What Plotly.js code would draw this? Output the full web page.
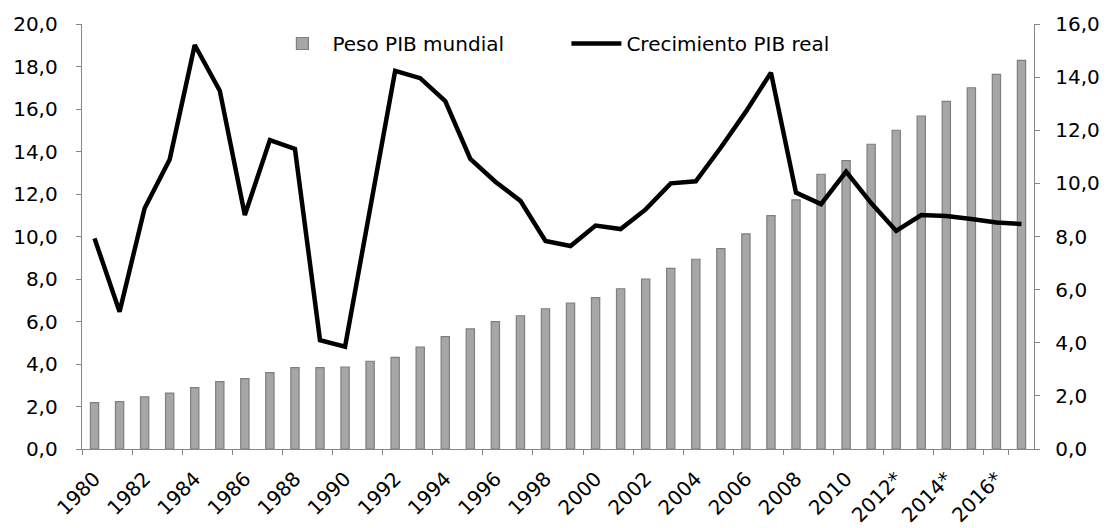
<!DOCTYPE html>
<html>
<head>
<meta charset="utf-8">
<script src="https://cdn.plot.ly/plotly-3.0.1.min.js"></script>
<style>html,body{margin:0;padding:0;background:#fff;}#chart{width:1113px;height:528px;}</style>
</head>
<body>
<div id="chart"></div>
<script>
const years = ["1980","1981","1982","1983","1984","1985","1986","1987","1988","1989",
  "1990","1991","1992","1993","1994","1995","1996","1997","1998","1999",
  "2000","2001","2002","2003","2004","2005","2006","2007","2008","2009",
  "2010","2011*","2012*","2013*","2014*","2015*","2016*","2017*"];
const pesoPIB = [2.18,2.23,2.45,2.63,2.89,3.17,3.31,3.59,3.83,3.83,
  3.86,4.13,4.31,4.80,5.29,5.65,5.99,6.27,6.60,6.87,
  7.12,7.54,8.00,8.50,8.93,9.43,10.12,10.98,11.72,12.93,
  13.57,14.34,15.00,15.67,16.36,17.00,17.63,18.29];
const crecimiento = [7.93,5.17,9.06,10.9,15.21,13.49,8.81,11.63,11.30,4.10,
  3.85,9.0,14.24,13.96,13.10,10.92,10.06,9.34,7.83,7.64,
  8.41,8.28,9.02,10.0,10.08,11.35,12.7,14.17,9.65,9.22,
  10.44,9.26,8.21,8.81,8.77,8.66,8.53,8.47];
const tickYears = years.filter((y,i)=>i%2===0 && i<37);
const seriesNames = ["Peso PIB mundial","Crecimiento PIB real"];

const fam = "DejaVu Sans, sans-serif";
const txt = {family: fam, size: 20, color: "#000"};
const axisColor = "#868686";

const traces = [
  {type:"bar", x: years, y: pesoPIB, name: seriesNames[0], yaxis:"y",
   marker:{color:"#a6a6a6", line:{color:"#7f7f7f", width:1.2}}, hoverinfo:"none"},
  {type:"scatter", mode:"lines", x: years, y: crecimiento, name: seriesNames[1], yaxis:"y2",
   line:{color:"#000", width:4.5}, hoverinfo:"none"}
];

const layout = {
  width:1113, height:528,
  margin:{l:82, r:79, t:24, b:79},
  paper_bgcolor:"#fff", plot_bgcolor:"#fff",
  separators:",.",
  font: txt,
  bargap:0.67,
  showlegend:true,
  legend:{orientation:"h", x:0.2, xanchor:"left", y:1.0, yanchor:"top",
    font:txt, itemwidth:50, entrywidth:229, entrywidthmode:"pixels",
    bgcolor:"rgba(0,0,0,0)", traceorder:"normal"},
  xaxis:{type:"category", tickmode:"array", tickvals: tickYears, ticktext: tickYears,
    tickangle:-45, ticks:"outside", ticklen:5, tickcolor:axisColor, tickson:"boundaries",
    showline:true, linecolor:axisColor, linewidth:1.3, showgrid:false, zeroline:false,
    tickfont:txt, ticklabelstandoff:9, range:[-0.5, 37.5]},
  yaxis:{range:[0,20], dtick:2, tickformat:".1f", ticks:"outside", ticklen:5, tickcolor:axisColor,
    showline:true, linecolor:axisColor, linewidth:1.3, showgrid:false, zeroline:false,
    tickfont:txt, ticklabelstandoff:14},
  yaxis2:{range:[0,16], dtick:2, tickformat:".1f", overlaying:"y", side:"right",
    ticks:"outside", ticklen:5, tickcolor:axisColor,
    showline:true, linecolor:axisColor, linewidth:1.3, showgrid:false, zeroline:false,
    tickfont:txt, ticklabelstandoff:11}
};

Plotly.newPlot("chart", traces, layout, {displayModeBar:false, staticPlot:true});
</script>
</body>
</html>
